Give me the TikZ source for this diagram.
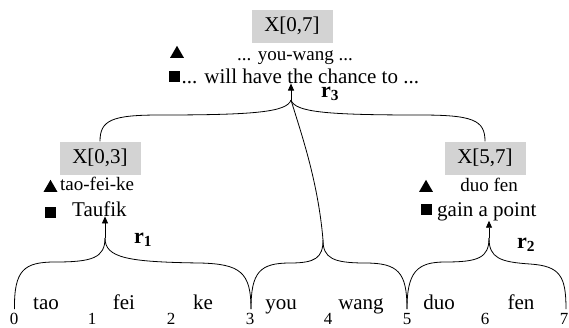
\documentclass[tikz,border=0pt]{standalone}
\usepackage{fontspec}
\setmainfont{Liberation Serif}
\usetikzlibrary{arrows.meta,shapes.geometric}
\definecolor{boxgray}{RGB}{211,211,211}
\begin{document}
\begin{tikzpicture}[x=1pt,y=-1pt,
  xbox/.style={fill=boxgray, minimum width=81pt, minimum height=33pt, inner sep=0pt, font=\fontsize{21}{25}\selectfont},
  big/.style={inner sep=0pt, font=\fontsize{21}{25}\selectfont},
  small/.style={inner sep=0pt, font=\fontsize{19}{23}\selectfont},
  num/.style={inner sep=0pt, anchor=base, font=\fontsize{17}{20}\selectfont},
  word/.style={inner sep=0pt, anchor=base, font=\fontsize{21}{25}\selectfont},
  rl/.style={inner sep=0pt, anchor=base west, font=\fontsize{22}{26}\selectfont\bfseries},
  tri/.style={regular polygon, regular polygon sides=3, fill=black, inner sep=0pt, minimum size=16pt, anchor=south},
  sq/.style={rectangle, fill=black, inner sep=0pt, minimum size=11pt},
  curve/.style={line width=0.8pt, black},
  arr/.style={curve, -{Triangle[width=6pt,length=7pt]}}
]
\useasboundingbox (0,0) rectangle (569,327);

% boxes
\node[xbox] (X07) at (292,26) {X[0,7]};
\node[xbox] (X03) at (100,158) {X[0,3]};
\node[xbox] (X57) at (485,158) {X[5,7]};

% X[0,7] labels
\node[tri] (t07) at (177,58) {};
\node[small, anchor=base] (p07) at (295,60) {... you-wang ...};
\node[sq] (s07) at (174,76) {};
\node[big, anchor=base west] (e07) at (181.5,83) {... will have the chance to ...};

% X[0,3] labels
\node[tri] (t03) at (50.5,192) {};
\node[small, anchor=base west] (p03) at (60,190) {tao-fei-ke};
\node[sq] (s03) at (50,212) {};
\node[big, anchor=base west] (e03) at (72,216) {Taufik};

% X[5,7] labels
\node[tri] (t57) at (426,192) {};
\node[small, anchor=base] (p57) at (489,191) {duo fen};
\node[sq] (s57) at (426,209) {};
\node[big, anchor=base west] (e57) at (437,216) {gain a point};

% words
\node[word] (w1) at (46,309) {tao};
\node[word] (w2) at (124,309) {fei};
\node[word] (w3) at (203,309) {ke};
\node[word] (w4) at (281,309) {you};
\node[word] (w5) at (361,309) {wang};
\node[word] (w6) at (439,309) {duo};
\node[word] (w7) at (521,309) {fen};

% numbers
\node[num] (n0) at (14,324) {0};
\node[num] (n1) at (92,324) {1};
\node[num] (n2) at (171,324) {2};
\node[num] (n3) at (250,324) {3};
\node[num] (n4) at (328,324) {4};
\node[num] (n5) at (407,324) {5};
\node[num] (n6) at (485,324) {6};
\node[num] (n7) at (564,324) {7};

% brace ends / peaks
\coordinate (b0) at (14.5,309);
\coordinate (b3) at (251,309);
\coordinate (b5) at (407,309);
\coordinate (b7) at (566,309);
\coordinate (p1) at (105,238);
\coordinate (p2) at (489,238);
\coordinate (p4) at (323,240);
\coordinate (j3) at (291,100);

% brace r1
\draw[curve] (b0) .. controls (14,270) and (24,262) .. (55,262)
  .. controls (92,262) and (105,258) .. (p1);
\draw[curve] (b3) .. controls (251,272) and (240,264) .. (200,263)
  .. controls (128,262) and (105,258) .. (p1);
\draw[arr] (p1) -- (e03.south -| p1);

% brace under you wang
\draw[curve] (b3) .. controls (251,272) and (260,263) .. (290,263)
  .. controls (315,263) and (323,258) .. (p4);
\draw[curve] (b5) .. controls (407,272) and (398,263) .. (365,263)
  .. controls (333,263) and (323,258) .. (p4);
\draw[curve] (p4) .. controls (318,180) and (300,130) .. (j3);

% brace r2
\draw[curve] (b5) .. controls (407,272) and (417,262) .. (445,262)
  .. controls (478,262) and (489,258) .. (p2);
\draw[curve] (b7) .. controls (566,276) and (560,266) .. (530,264)
  .. controls (500,262) and (489,258) .. (p2);
\draw[arr] (p2) -- (e57.south -| p2);

% upper brace r3
\draw[curve] (X03.north) .. controls (100,120) and (112,115) .. (160,115)
  .. controls (255,115) and (287,112) .. (j3);
\draw[curve] (X57.north) .. controls (485,120) and (473,115) .. (420,115)
  .. controls (325,115) and (295,112) .. (j3);
\draw[arr] (j3) -- (e07.south -| j3);

% rule labels
\node[rl] (r1) at (134,243) {r\textsubscript{1}};
\node[rl] (r2) at (517,248) {r\textsubscript{2}};
\node[rl] (r3) at (321,97) {r\textsubscript{3}};
\end{tikzpicture}
\end{document}
